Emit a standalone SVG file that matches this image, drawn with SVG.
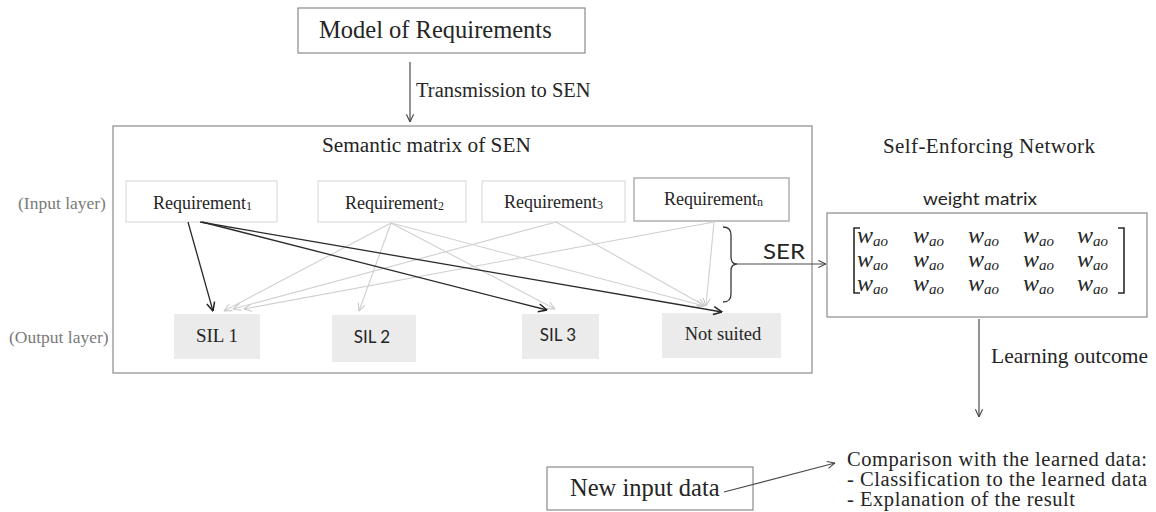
<svg xmlns="http://www.w3.org/2000/svg" width="1156" height="512" viewBox="0 0 1156 512">
  <defs>
    <marker id="ahDark" viewBox="0 0 10 10" refX="9.5" refY="5" markerWidth="10" markerHeight="10" markerUnits="userSpaceOnUse" orient="auto">
      <path d="M1,1 L9.5,5 L1,9" fill="none" stroke="#222" stroke-width="1.5"/>
    </marker>
    <marker id="ahMid" viewBox="0 0 10 10" refX="9.5" refY="5" markerWidth="9" markerHeight="9" markerUnits="userSpaceOnUse" orient="auto">
      <path d="M1,1 L9.5,5 L1,9" fill="none" stroke="#444" stroke-width="1.2"/>
    </marker>
    <marker id="ahLight" viewBox="0 0 10 10" refX="9.5" refY="5" markerWidth="9" markerHeight="9" markerUnits="userSpaceOnUse" orient="auto">
      <path d="M1,1 L9.5,5 L1,9" fill="none" stroke="#c8c8c8" stroke-width="1.2"/>
    </marker>
  </defs>
  <style>
    .serif { font-family: "Liberation Serif", "Times New Roman", serif; fill: #252525; }
    .sans { font-family: Lato, "Open Sans", "Liberation Sans", sans-serif; fill: #252525; }
    .layer { font-family: "Liberation Serif", "Times New Roman", serif; fill: #7a7a7a; font-size: 17.5px; }
    .frame { fill: #fff; stroke: #8a8a8a; stroke-width: 1.2; }
    .req { fill: #fff; stroke: #dcdcdc; stroke-width: 1.2; }
    .reqN { fill: #fff; stroke: #b5b5b5; stroke-width: 1.6; }
    .sil { fill: #ebebeb; stroke: none; }
    .dark { stroke: #2a2a2a; stroke-width: 1.3; fill: none; marker-end: url(#ahDark); }
    .light { stroke: #d0d0d0; stroke-width: 1.1; fill: none; marker-end: url(#ahLight); }
    .flow { stroke: #4a4a4a; stroke-width: 1.2; fill: none; marker-end: url(#ahMid); }
    .w { font-family: "Liberation Serif", "Times New Roman", serif; font-style: italic; fill: #252525; font-size: 24px; }
    .sub { font-size: 15px; }
    .result { font-family: "Liberation Serif", "Times New Roman", serif; fill: #252525; font-size: 20.5px; }
  </style>

  <rect width="1156" height="512" fill="#fff"/>

  <!-- Top source node -->
  <g id="model">
    <rect class="frame" x="298" y="8" width="287" height="45"/>
    <text class="serif" x="319" y="38" font-size="24.5">Model of Requirements</text>
  </g>

  <!-- Semantic matrix container -->
  <g id="semantic-matrix">
    <rect class="frame" x="113" y="126" width="699" height="247"/>
    <text class="serif" x="322" y="152" font-size="21.3">Semantic matrix of SEN</text>
  </g>

  <text class="layer" x="18" y="209">(Input layer)</text>
  <text class="layer" x="9" y="343">(Output layer)</text>

  <!-- Input layer -->
  <g id="req1">
    <rect class="req" x="126" y="181" width="151" height="41"/>
    <text class="serif" x="153" y="209" font-size="18">Requirement<tspan font-size="12" dy="1">1</tspan></text>
  </g>
  <g id="req2">
    <rect class="req" x="318" y="181" width="148" height="41"/>
    <text class="serif" x="345" y="209" font-size="18">Requirement<tspan font-size="12" dy="1">2</tspan></text>
  </g>
  <g id="req3">
    <rect class="req" x="482" y="181" width="143" height="41"/>
    <text class="serif" x="504" y="208" font-size="18">Requirement<tspan font-size="12" dy="1">3</tspan></text>
  </g>
  <g id="reqN">
    <rect class="reqN" x="634" y="178" width="155" height="43"/>
    <text class="serif" x="664" y="205" font-size="18">Requirement<tspan font-size="12" dy="1">n</tspan></text>
  </g>

  <!-- Output layer -->
  <g id="sil1">
    <rect class="sil" x="174" y="314" width="86" height="45"/>
    <text class="serif" x="217" y="342" font-size="19" text-anchor="middle">SIL 1</text>
  </g>
  <g id="sil2">
    <rect class="sil" x="332" y="315" width="84" height="47"/>
    <text class="sans" x="372" y="343" font-size="17" text-anchor="middle">SIL 2</text>
  </g>
  <g id="sil3">
    <rect class="sil" x="522" y="314" width="77" height="45"/>
    <text class="sans" x="558" y="341" font-size="17" text-anchor="middle">SIL 3</text>
  </g>
  <g id="not-suited">
    <rect class="sil" x="662" y="313" width="119" height="45"/>
    <text class="serif" x="723" y="340" font-size="18.5" text-anchor="middle">Not suited</text>
  </g>

  <!-- Network header and weight matrix -->
  <text class="serif" x="883" y="153" font-size="21" textLength="212" lengthAdjust="spacing">Self-Enforcing Network</text>
  <g id="weight-matrix">
    <text class="sans" x="980" y="205" font-size="18" text-anchor="middle" textLength="114" lengthAdjust="spacingAndGlyphs">weight matrix</text>
    <rect class="frame" x="827" y="213" width="320" height="104"/>
    <path d="M860,228 H854 V293 H860 M1118,228 H1124 V293 H1118" fill="none" stroke="#2a2a2a" stroke-width="1.6"/>
    <g>
      <text class="w" x="857" y="243">w<tspan class="sub" dy="3">ao</tspan></text>
      <text class="w" x="913" y="243">w<tspan class="sub" dy="3">ao</tspan></text>
      <text class="w" x="968" y="243">w<tspan class="sub" dy="3">ao</tspan></text>
      <text class="w" x="1023" y="243">w<tspan class="sub" dy="3">ao</tspan></text>
      <text class="w" x="1077" y="243">w<tspan class="sub" dy="3">ao</tspan></text>
      <text class="w" x="857" y="267">w<tspan class="sub" dy="3">ao</tspan></text>
      <text class="w" x="913" y="267">w<tspan class="sub" dy="3">ao</tspan></text>
      <text class="w" x="968" y="267">w<tspan class="sub" dy="3">ao</tspan></text>
      <text class="w" x="1023" y="267">w<tspan class="sub" dy="3">ao</tspan></text>
      <text class="w" x="1077" y="267">w<tspan class="sub" dy="3">ao</tspan></text>
      <text class="w" x="857" y="291">w<tspan class="sub" dy="3">ao</tspan></text>
      <text class="w" x="913" y="291">w<tspan class="sub" dy="3">ao</tspan></text>
      <text class="w" x="968" y="291">w<tspan class="sub" dy="3">ao</tspan></text>
      <text class="w" x="1023" y="291">w<tspan class="sub" dy="3">ao</tspan></text>
      <text class="w" x="1077" y="291">w<tspan class="sub" dy="3">ao</tspan></text>
    </g>
  </g>

  <!-- Results -->
  <g id="comparison">
    <text class="result" x="847" y="466" textLength="300" lengthAdjust="spacing">Comparison with the learned data:</text>
    <text class="result" x="847" y="486" textLength="300" lengthAdjust="spacing">- Classification to the learned data</text>
    <text class="result" x="847" y="506" textLength="228" lengthAdjust="spacing">- Explanation of the result</text>
  </g>
  <g id="new-input">
    <rect class="frame" x="547" y="467" width="206" height="43"/>
    <text class="serif" x="570" y="496" font-size="24.5">New input data</text>
  </g>

  <!-- Connectors -->
  <g id="connectors">
    <line class="flow" x1="410" y1="62" x2="410" y2="122"/>
    <text class="serif" x="416" y="97" font-size="20.5">Transmission to SEN</text>

    <!-- requirement to output links -->
    <line class="light" x1="391" y1="223" x2="224" y2="311"/>
    <line class="light" x1="391" y1="223" x2="359" y2="311"/>
    <line class="light" x1="391" y1="223" x2="555" y2="309"/>
    <line class="light" x1="391" y1="223" x2="704" y2="306"/>
    <line class="light" x1="556" y1="222" x2="233" y2="309"/>
    <line class="light" x1="556" y1="222" x2="705" y2="306"/>
    <line class="light" x1="714" y1="222" x2="244" y2="309"/>
    <line class="light" x1="714" y1="222" x2="706" y2="306"/>

    <line class="dark" x1="188" y1="222" x2="213" y2="311"/>
    <line class="dark" x1="202" y1="222" x2="547" y2="310"/>
    <line class="dark" x1="200" y1="222" x2="722" y2="312"/>

    <!-- brace collecting the links into the weight matrix -->
    <path d="M723,227 Q731,227 731,235 L731,257 Q731,264 737,264 Q731,264 731,271 L731,294 Q731,302 723,302" fill="none" stroke="#3a3a3a" stroke-width="1.3"/>
    <line class="flow" x1="737" y1="264" x2="826" y2="264"/>
    <text class="sans" x="763" y="259" font-size="21" textLength="42" lengthAdjust="spacingAndGlyphs">SER</text>

    <line class="flow" x1="979" y1="319" x2="979" y2="417"/>
    <text class="serif" x="991" y="363" font-size="21.5">Learning outcome</text>

    <line class="flow" x1="724" y1="492" x2="835" y2="463"/>
  </g>
</svg>
